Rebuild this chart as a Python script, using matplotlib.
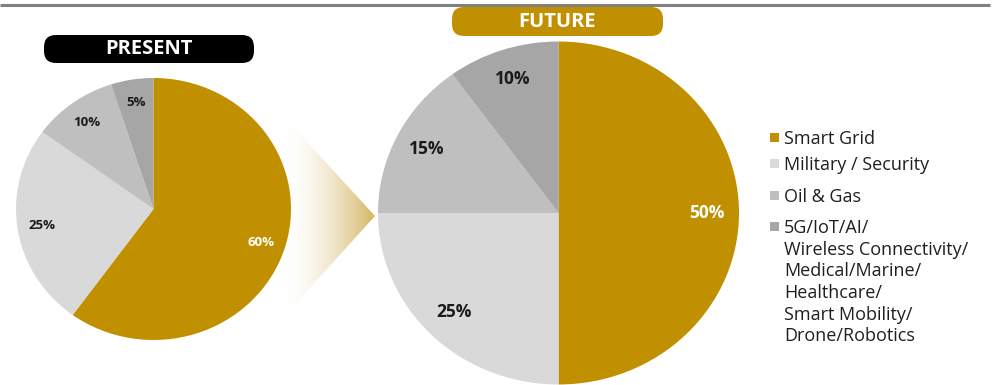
import numpy as np
import matplotlib
matplotlib.use("Agg")
import matplotlib.pyplot as plt
from matplotlib.patches import FancyBboxPatch, Rectangle, Polygon
from matplotlib import font_manager

categories = ["Smart Grid", "Military / Security", "Oil & Gas",
              "5G/IoT/AI/\nWireless Connectivity/\nMedical/Marine/\nHealthcare/\nSmart Mobility/\nDrone/Robotics"]
present = [60, 25, 10, 5]
future = [50, 25, 15, 10]
colors = ["#C09000", "#D9D9D9", "#BFBFBF", "#A6A6A6"]
label_colors = ["white", "#1a1a1a", "#1a1a1a", "#1a1a1a"]

names = {f.name for f in font_manager.fontManager.ttflist}
base_font = "Open Sans" if "Open Sans" in names else "DejaVu Sans"

W, H = 998, 385
fig = plt.figure(figsize=(W / 100, H / 100), dpi=100)
bg = fig.add_axes([0, 0, 1, 1])
bg.set_xlim(0, W)
bg.set_ylim(H, 0)
bg.axis("off")

# top rule
bg.plot([0, 990], [5, 5], color="#808080", lw=2.2, solid_capstyle="butt")

# gradient arrow between the pies
tri = Polygon([(287, 120), (287, 313), (375, 216)], closed=True, fc="none", ec="none")
bg.add_patch(tri)
t = np.linspace(0, 1, 200) ** 1.6
tip = np.array([212, 182, 100]) / 255
grad = np.ones((1, 200, 3)) * (1 - t[None, :, None]) + tip[None, None, :] * t[None, :, None]
im = bg.imshow(grad, extent=(287, 375, 313, 120), aspect="auto", interpolation="bilinear")
im.set_clip_path(tri)
bg.set_xlim(0, W)
bg.set_ylim(H, 0)


def pie_axes(cx, cy, rx, ry):
    ax = fig.add_axes([(cx - rx) / W, (H - cy - ry) / H, 2 * rx / W, 2 * ry / H])
    return ax


def draw_pie(ax, values, fs):
    wedges, _, autotexts = ax.pie(values, colors=colors, startangle=90, counterclock=False,
                                  autopct="%.0f%%", pctdistance=0.82, radius=1,
                                  wedgeprops=dict(linewidth=0))
    for txt, c in zip(autotexts, label_colors):
        txt.set_color(c)
        txt.set_fontsize(fs)
        txt.set_fontweight("bold")
        txt.set_fontfamily(base_font)
    ax.set_aspect("auto")
    ax.set_xlim(-1, 1)
    ax.set_ylim(-1, 1)
    ax.axis("off")


draw_pie(pie_axes(153.5, 209, 137.5, 131), present, 9.5)
draw_pie(pie_axes(558.5, 213, 180.5, 171.5), future, 12.5)

# badges
for (x0, y0, x1, y1, fc, label) in [(44, 35, 254, 63, "black", "PRESENT"),
                                     (452, 7, 663, 36, "#C09000", "FUTURE")]:
    bg.add_patch(FancyBboxPatch((x0, y0), x1 - x0, y1 - y0,
                                boxstyle="round,pad=0,rounding_size=12",
                                fc=fc, ec="none"))
    bg.text((x0 + x1) / 2, (y0 + y1) / 2 + 0.5, label, color="white", fontsize=14.5,
            fontweight="bold", family=base_font, ha="center", va="center")

# legend
legend_y = [137, 163, 195, 226]
for name, c, y in zip(categories, colors, legend_y):
    bg.add_patch(Rectangle((770.5, y - 4.5), 9, 9, fc=c, ec="none"))
    bg.text(784, y - 7, name, fontsize=13, family=base_font, color="#1f1f1f",
            ha="left", va="top", linespacing=1.26)

fig.savefig("out.png", dpi=100)
